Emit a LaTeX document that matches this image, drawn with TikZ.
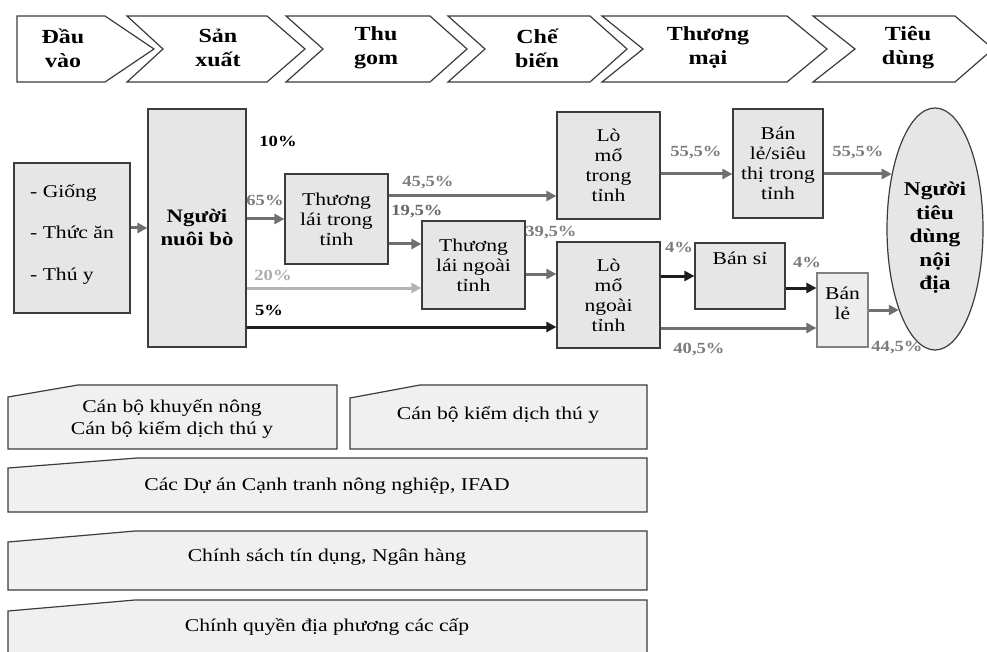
\documentclass[tikz,border=0pt]{standalone}
\usepackage{fontspec}
\setmainfont{Liberation Serif}[FakeStretch=1.2]
\usetikzlibrary{arrows.meta,shapes.geometric}

\definecolor{boxline}{HTML}{3C3C3C}
\definecolor{boxfill}{HTML}{E6E6E6}
\definecolor{panelfill}{HTML}{F0F0F0}
\definecolor{arrowgray}{HTML}{707070}
\definecolor{arrowlight}{HTML}{B4B4B4}
\definecolor{arrowdark}{HTML}{1E1E1E}
\definecolor{pctgray}{HTML}{7C7C7C}
\definecolor{pctdark}{HTML}{666666}
\definecolor{pctlight}{HTML}{ADADAD}

\tikzset{
    chevron/.style={draw=boxline, fill=white, line width=1.2pt, line join=miter},
    stage/.style={align=center, inner sep=0, font=\bfseries\fontsize{20}{24}\selectfont},
    box/.style={draw=boxline, fill=boxfill, line width=1.2pt, align=center, inner sep=0, font=\fontsize{18}{20}\selectfont},
    boxtext/.style={align=center, inner sep=0, font=\fontsize{18}{20}\selectfont},
    flow/.style={line width=3pt, color=arrowgray, -{Triangle[length=10pt, width=10pt]}},
    flowlight/.style={flow, color=arrowlight},
    flowdark/.style={flow, color=arrowdark},
    pct/.style={inner sep=0, font=\bfseries\fontsize{15.5}{18}\selectfont, text=pctgray},
    panel/.style={draw=boxline, fill=panelfill, line width=1.2pt},
    paneltext/.style={align=center, inner sep=0, font=\fontsize{18}{22}\selectfont},
}

\begin{document}
\begin{tikzpicture}[x=1pt, y=-1pt]
    \useasboundingbox (0, 0) rectangle (987, 652);

    \foreach \L/\R/\d/\n/\cx/\txt [count=\i] in {17/105/49/0/63/{Đầu\\vào}, 127/267/38/36/218/{Sản\\xuất}, 286/430/37/37/376/{Thu\\gom}, 448/590/37/37/537/{Chế\\biến}, 602/787/40/41/708/{Thương\\mại}, 813/955/38/42/908/{Tiêu\\dùng}} {
        \draw[chevron] (\L, 16) -- (\R, 16) -- ++(\d, 33) -- (\R, 82) -- (\L, 82) -- ++(\n, -33) -- cycle;
        \node[stage] (stage\i) at (\cx, 48) {\txt};
    }

    \node[box, minimum width=116pt, minimum height=150pt, label={[boxtext, align=left, yshift=4pt, font=\fontsize{18}{41.5}\selectfont]center:- Giống\\- Thức ăn\\- Thú y}] (inputs) at (72, 238) {};
    \node[box, minimum width=98pt, minimum height=238pt, font=\bfseries\fontsize{19}{23}\selectfont] (farmer) at (197, 228) {Người\\nuôi bò};
    \node[box, minimum width=103pt, minimum height=90pt] (tltt) at (336.5, 219) {Thương\\lái trong\\tỉnh};
    \node[box, minimum width=103pt, minimum height=88pt] (tlnt) at (473.5, 265) {Thương\\lái ngoài\\tỉnh};
    \node[box, minimum width=103pt, minimum height=107pt] (lmtt) at (608.5, 165.5) {Lò\\mổ\\trong\\tỉnh};
    \node[box, minimum width=103pt, minimum height=106pt] (lmnt) at (608.5, 295) {Lò\\mổ\\ngoài\\tỉnh};
    \node[box, minimum width=90pt, minimum height=109pt] (retailtt) at (778, 163.5) {Bán\\lẻ/siêu\\thị trong\\tỉnh};
    \node[box, minimum width=90pt, minimum height=66pt, label={[boxtext, anchor=north, yshift=-9pt]north:Bán sỉ}] (wholesale) at (740, 276) {};
    \node[box, draw=gray, fill=boxfill!70!white, minimum width=51pt, minimum height=74pt, label={[boxtext, yshift=7pt]center:Bán\\lẻ}] (retail) at (842.5, 310) {};
    \node[ellipse, draw=boxline, fill=boxfill, line width=1.2pt, minimum width=96pt, minimum height=242pt, inner sep=0, label={[align=center, inner sep=0, yshift=-9pt, font=\bfseries\fontsize{19.5}{23.5}\selectfont]center:Người\\tiêu\\dùng\\nội\\địa}] (consumer) at (935, 229) {};

    \draw[flow] (inputs.east |- farmer) -- (farmer);
    \draw[flow] (farmer.east |- tltt) -- (tltt);
    \draw[flow] (tltt.east |- 0,196) -- (lmtt.west |- 0,196);
    \draw[flow] (tltt.east |- 0,244) -- (tlnt.west |- 0,244);
    \draw[flowlight] (farmer.east |- 0,288) -- (tlnt.west |- 0,288);
    \draw[flow] (tlnt.east |- 0,274) -- (lmnt.west |- 0,274);
    \draw[flowdark] (farmer.east |- 0,327) -- (lmnt.west |- 0,327);
    \draw[flow] (lmtt.east |- 0,174) -- (retailtt.west |- 0,174);
    \draw[flow] (retailtt.east |- 0,174) -- (consumer.128 |- 0,174);
    \draw[flowdark] (lmnt.east |- wholesale) -- (wholesale);
    \draw[flowdark] (wholesale.east |- 0,288) -- (retail.west |- 0,288);
    \draw[flow] (lmnt.east |- 0,328) -- (retail.west |- 0,328);
    \draw[flow] (retail.east) -- (retail.east -| consumer.246);

    \node[pct, text=black] (p10) at (278, 141) {10\%};
    \node[pct] (p65) at (265, 200) {65\%};
    \node[pct] (p455) at (428, 183) {45,5\%};
    \node[pct, text=pctdark] (p195) at (417, 212) {19,5\%};
    \node[pct, text=pctlight] (p20) at (273, 275) {20\%};
    \node[pct] (p395) at (551, 233) {39,5\%};
    \node[pct, text=black] (p5) at (269, 310) {5\%};
    \node[pct] (p555a) at (696, 153) {55,5\%};
    \node[pct] (p555b) at (858, 153) {55,5\%};
    \node[pct] (p4a) at (679, 247) {4\%};
    \node[pct] (p4b) at (807, 262) {4\%};
    \node[pct] (p405) at (699, 350) {40,5\%};
    \node[pct] (p445) at (897, 348) {44,5\%};

    \draw[panel] (8, 397) -- (78, 385) -- (337, 385) -- (337, 449) -- (8, 449) -- cycle;
    \draw[panel] (350, 398) -- (420, 385) -- (647, 385) -- (647, 449) -- (350, 449) -- cycle;
    \draw[panel] (8, 468) -- (137, 458) -- (647, 458) -- (647, 512) -- (8, 512) -- cycle;
    \draw[panel] (8, 542) -- (135, 531) -- (647, 531) -- (647, 590) -- (8, 590) -- cycle;
    \draw[panel] (8, 611) -- (135, 600) -- (647, 600) -- (647, 660) -- (8, 660) -- cycle;
    \node[paneltext] (extension) at (172, 419) {Cán bộ khuyến nông\\Cán bộ kiểm dịch thú y};
    \node[paneltext] (quarantine) at (498, 415) {Cán bộ kiểm dịch thú y};
    \node[paneltext] (projects) at (327, 486) {Các Dự án Cạnh tranh nông nghiệp, IFAD};
    \node[paneltext] (credit) at (327, 557) {Chính sách tín dụng, Ngân hàng};
    \node[paneltext] (government) at (327, 627) {Chính quyền địa phương các cấp};
\end{tikzpicture}
\end{document}
